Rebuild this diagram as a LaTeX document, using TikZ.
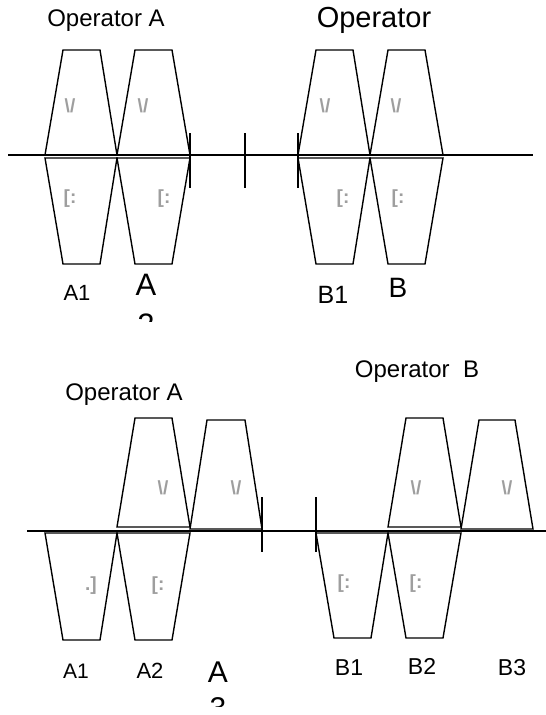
\documentclass[tikz,border=0pt]{standalone}
\usepackage{fontspec}
\setmainfont{Liberation Sans}
\begin{document}
\begin{tikzpicture}[x=1pt,y=-1pt,
  shp/.style={draw=black,line width=1.4pt,line join=miter},
  axis/.style={draw=black,line width=1.4pt},
  tickmark/.style={draw=black,line width=1.6pt},
  lbl/.style={inner sep=0pt,anchor=base},
  gly/.style={inner sep=0pt,text=black!38,font=\fontsize{19}{19}\selectfont\bfseries}]
\useasboundingbox (0,0) rectangle (546,715);
\fill[white] (0,0) rectangle (546,715);

% ---------- top diagram ----------
\draw[axis] (8,155) -- (533,155);
% A1
\draw[shp] (45,155) -- (63,50) -- (100,50) -- (117,155) -- cycle;
\draw[shp] (45,158) -- (63,264) -- (100,264) -- (117,158) -- cycle;
% A2
\draw[shp] (117,155) -- (135,50) -- (172,50) -- (190,155) -- cycle;
\draw[shp] (117,158) -- (135,264) -- (172,264) -- (190,158) -- cycle;
% B1
\draw[shp] (298,155) -- (316,50) -- (353,50) -- (370,155) -- cycle;
\draw[shp] (298,158) -- (316,264) -- (353,264) -- (370,158) -- cycle;
% B2
\draw[shp] (370,155) -- (388,50) -- (425,50) -- (443,155) -- cycle;
\draw[shp] (370,158) -- (388,264) -- (425,264) -- (443,158) -- cycle;
% ticks
\draw[tickmark] (190,133) -- (190,188);
\draw[tickmark] (245,133) -- (245,188);
\draw[tickmark] (298,133) -- (298,188);
% glyphs
\node[gly] (g1) at (70,106) {\textbackslash/};
\node[gly] (g2) at (143,106) {\textbackslash/};
\node[gly] (g3) at (70,199) {[:};
\node[gly] (g4) at (164,199) {[:};
\node[gly] (g5) at (325,106) {\textbackslash/};
\node[gly] (g6) at (396,106) {\textbackslash/};
\node[gly] (g7) at (343,199) {[:};
\node[gly] (g8) at (398,199) {[:};
% labels
\node[lbl,font=\fontsize{24}{24}\selectfont] (opA1) at (106,26) {Operator A};
\node[lbl,font=\fontsize{29}{29}\selectfont] (opB1) at (374,27) {Operator};
\node[lbl,font=\fontsize{22}{22}\selectfont] (tA1) at (77,300) {A1};
\begin{scope}
\clip (110,260) rectangle (180,321);
\node[lbl,font=\fontsize{31}{31}\selectfont] (tA2a) at (146,295) {A};
\node[lbl,font=\fontsize{31}{31}\selectfont] (tA2b) at (146,335) {2};
\end{scope}
\node[lbl,font=\fontsize{25}{25}\selectfont] (tB1) at (333,303) {B1};
\node[lbl,font=\fontsize{28}{28}\selectfont] (tB2) at (398,297) {B};

% ---------- bottom diagram ----------
\draw[axis] (27,531) -- (546,531);
% A1 lower
\draw[shp] (45,533) -- (63,640) -- (100,640) -- (117,533) -- cycle;
% A2
\draw[shp] (117,527) -- (135,418) -- (172,418) -- (190,527) -- cycle;
\draw[shp] (117,533) -- (135,640) -- (172,640) -- (190,533) -- cycle;
% A3 upper
\draw[shp] (190,529) -- (207,420) -- (245,420) -- (262,529) -- cycle;
% ticks
\draw[tickmark] (262,497) -- (262,552);
\draw[tickmark] (316,497) -- (316,552);
% B1 lower
\draw[shp] (316,533) -- (334,638) -- (371,638) -- (388,533) -- cycle;
% B2
\draw[shp] (388,527) -- (406,418) -- (443,418) -- (461,527) -- cycle;
\draw[shp] (388,533) -- (406,638) -- (443,638) -- (461,533) -- cycle;
% B3 upper
\draw[shp] (461,529) -- (479,420) -- (515,420) -- (533,529) -- cycle;
% glyphs
\node[gly] (h1) at (91,586) {.]};
\node[gly] (h2) at (163,488) {\textbackslash/};
\node[gly] (h3) at (158,586) {[:};
\node[gly] (h4) at (236,488) {\textbackslash/};
\node[gly] (h5) at (344,584) {[:};
\node[gly] (h6) at (416,488) {\textbackslash/};
\node[gly] (h7) at (416,584) {[:};
\node[gly] (h8) at (507,488) {\textbackslash/};
% labels
\node[lbl,font=\fontsize{24}{24}\selectfont] (opA2) at (124,400) {Operator A};
\node[lbl,font=\fontsize{24}{24}\selectfont] (opB2) at (417,377) {Operator\ \ B};
\node[lbl,font=\fontsize{21}{21}\selectfont] (bA1) at (76,678) {A1};
\node[lbl,font=\fontsize{22}{22}\selectfont] (bA2) at (150,678) {A2};
\begin{scope}
\clip (190,640) rectangle (250,706);
\node[lbl,font=\fontsize{30}{30}\selectfont] (bA3a) at (218,682) {A};
\node[lbl,font=\fontsize{30}{30}\selectfont] (bA3b) at (218,718) {3};
\end{scope}
\node[lbl,font=\fontsize{23}{23}\selectfont] (bB1) at (349,675) {B1};
\node[lbl,font=\fontsize{23}{23}\selectfont] (bB2) at (422,674) {B2};
\node[lbl,font=\fontsize{23}{23}\selectfont] (bB3) at (512,675) {B3};
\end{tikzpicture}
\end{document}
